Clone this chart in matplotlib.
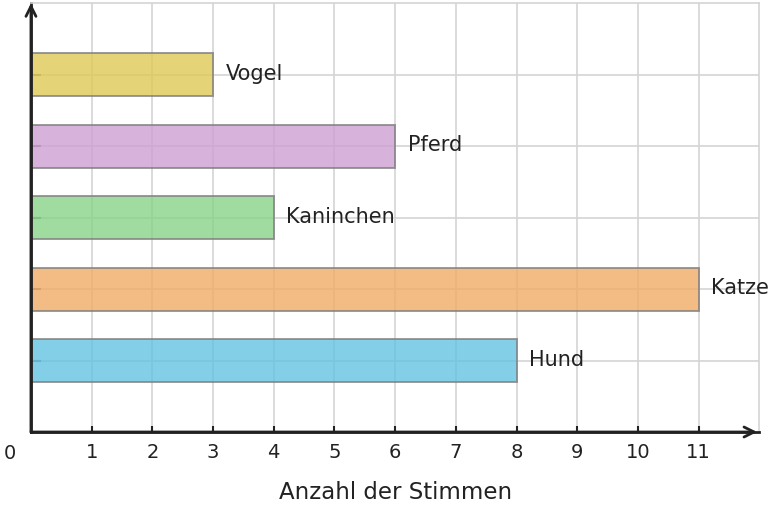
import matplotlib.pyplot as plt
from matplotlib.transforms import blended_transform_factory

# Daten
tiere = ['Hund', 'Katze', 'Kaninchen', 'Pferd', 'Vogel']
stimmen = [8, 11, 4, 6, 3]
farben = ['#63C3E2', '#F0AC66', '#88D288', '#CE9FD1', '#DFC956']
x_ticks = [1, 2, 3, 4, 5, 6, 7, 8, 9, 10, 11]

plt.rcParams['font.family'] = ['DejaVu Sans']
fig = plt.figure(figsize=(7.74, 5.08), dpi=100)
ax = fig.add_axes([0.040, 0.1496, 0.941, 0.844])

pos = list(range(len(tiere)))
ax.barh(pos, stimmen, height=0.6, color=farben, alpha=0.8,
        edgecolor='#808080', linewidth=1.4, zorder=2)

for p, v, name in zip(pos, stimmen, tiere):
    ax.text(v + 0.21, p + 0.01, name, va='center', ha='left', fontsize=15,
            color='#222222', zorder=3)

ax.set_xlim(0, 12)
ax.set_ylim(-1, 5)
ax.set_axisbelow(True)

ax.set_xticks(x_ticks)
ax.set_xticklabels([str(t) for t in x_ticks])
ax.set_yticks(pos)
ax.set_yticklabels([])
ax.tick_params(axis='x', direction='in', length=4, width=1.5,
               color='#222222', labelsize=14, labelcolor='#222222', pad=8)
ax.tick_params(axis='y', direction='in', length=7, width=1.5,
               color='#777777')
ax.grid(True, color='#d4d4d4', linewidth=1.2)

# "0" am Ursprung
trans = blended_transform_factory(ax.transData, ax.transAxes)
ax.text(-0.35, -0.027, '0', transform=trans, ha='center', va='top',
        fontsize=14, color='#222222', clip_on=False)

ax.set_xlabel('Anzahl der Stimmen', fontsize=16.5, color='#222222',
              labelpad=13.5)

for s in ['top', 'right']:
    ax.spines[s].set_color('#d4d4d4')
    ax.spines[s].set_linewidth(1.2)
for s in ['left', 'bottom']:
    ax.spines[s].set_color('#222222')
    ax.spines[s].set_linewidth(2)

# Pfeile an den Achsen
ax.annotate('', xy=(0.997, 0), xytext=(0, 0), xycoords='axes fraction',
            arrowprops=dict(arrowstyle='->', lw=2, color='#222222',
                            mutation_scale=18, shrinkA=0, shrinkB=0))
ax.annotate('', xy=(0, 1.0), xytext=(0, 0), xycoords='axes fraction',
            arrowprops=dict(arrowstyle='->', lw=2, color='#222222',
                            mutation_scale=18, shrinkA=0, shrinkB=0))

plt.savefig('out.png', dpi=100)
